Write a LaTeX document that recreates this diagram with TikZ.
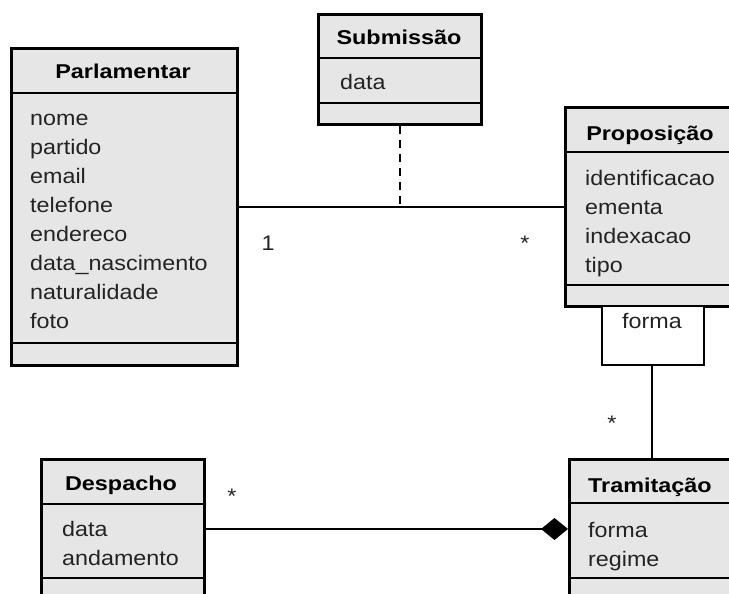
\documentclass[tikz,border=0pt]{standalone}
\usepackage{fontspec}
\setmainfont{Liberation Sans}[FakeStretch=1.17]
\newfontfamily\attrfont{Liberation Sans}[FakeStretch=1.11]
\usetikzlibrary{arrows.meta}
\definecolor{boxfill}{RGB}{230,230,230}
\definecolor{txt}{RGB}{35,35,35}
\tikzset{
  classbox/.style={draw=black, fill=boxfill, line width=3pt, rectangle, anchor=north west, inner sep=0pt},
  sepline/.style={draw=black, line width=1.5pt},
  conn/.style={draw=black, line width=1.5pt},
  qualbox/.style={draw=black, fill=white, line width=1.5pt, rectangle, anchor=north west, inner sep=0pt},
  title/.style={font=\fontsize{20}{24}\selectfont\bfseries, text=black, anchor=base, inner sep=0pt},
  attr/.style={font=\attrfont\fontsize{21}{24}\selectfont, text=txt, anchor=base west, inner sep=0pt},
  mult/.style={font=\attrfont\fontsize{21}{24}\selectfont, text=txt, inner sep=0pt}
}
\begin{document}
\begin{tikzpicture}[x=1pt,y=-1pt]
\useasboundingbox (0,0) rectangle (729,594);
\clip (0,0) rectangle (729,594);
% Parlamentar
\node[classbox, minimum width=226pt, minimum height=317pt] (parl) at (10,47) {};
\draw[sepline] (parl.west |- 0,93) -- (parl.east |- 0,93);
\draw[sepline] (parl.west |- 0,343) -- (parl.east |- 0,343);
\node[title] (parlt) at (123,79) {Parlamentar};
\node[attr] (p1) at (30,125) {nome};
\node[attr] (p2) at (30,154) {partido};
\node[attr] (p3) at (30,183) {email};
\node[attr] (p4) at (30,212) {telefone};
\node[attr] (p5) at (30,241) {endereco};
\node[attr] (p6) at (30,270) {data\_nascimento};
\node[attr] (p7) at (30,299) {naturalidade};
\node[attr] (p8) at (30,328) {foto};
% Submissao
\node[classbox, minimum width=163pt, minimum height=110pt] (sub) at (317,13) {};
\draw[sepline] (sub.west |- 0,58) -- (sub.east |- 0,58);
\draw[sepline] (sub.west |- 0,103) -- (sub.east |- 0,103);
\node[title] (subt) at (399,45) {Submissão};
\node[attr] (s1) at (340,90) {data};
% Proposicao
\node[classbox, minimum width=172pt, minimum height=199pt] (prop) at (564,106) {};
\draw[sepline] (prop.west |- 0,152) -- (prop.east |- 0,152);
\draw[sepline] (prop.west |- 0,285) -- (prop.east |- 0,285);
\node[title] (propt) at (650,140) {Proposição};
\node[attr] (r1) at (585,185) {identificacao};
\node[attr] (r2) at (585,214) {ementa};
\node[attr] (r3) at (585,243) {indexacao};
\node[attr] (r4) at (585,272) {tipo};
% qualifier
\node[qualbox, minimum width=102pt, minimum height=59pt] (qual) at (601,305) {};
\node[attr, anchor=base] (qualt) at (652,328) {forma};
% Tramitacao
\node[classbox, minimum width=167pt, minimum height=170pt] (tram) at (568,458) {};
\draw[sepline] (tram.west |- 0,503) -- (tram.east |- 0,503);
\draw[sepline] (tram.west |- 0,578) -- (tram.east |- 0,578);
\node[title] (tramt) at (650,492) {Tramitação};
\node[attr] (t1) at (588,537) {forma};
\node[attr] (t2) at (588,566) {regime};
% Despacho
\node[classbox, minimum width=163pt, minimum height=170pt] (desp) at (40,458) {};
\draw[sepline] (desp.west |- 0,504) -- (desp.east |- 0,504);
\draw[sepline] (desp.west |- 0,578) -- (desp.east |- 0,578);
\node[title] (despt) at (121,490) {Despacho};
\node[attr] (d1) at (62,536) {data};
\node[attr] (d2) at (62,565) {andamento};
% connectors
\coordinate (assoc) at (400,207);
\coordinate (comp) at (0,529);
\draw[conn] (parl.east |- assoc) -- (prop.west |- assoc);
\draw[conn, dash pattern=on 8pt off 6pt] (sub.south) -- (assoc);
\draw[conn] (qual.south -| 652,0) -- (tram.north -| 652,0);
\draw[conn, -{Diamond[length=27pt,width=22pt,fill=black]}] (desp.east |- comp) -- (tram.west |- comp);
% multiplicities
\node[mult] (m1) at (268,243) {1};
\node[mult] (m2) at (525,243) {*};
\node[mult] (m3) at (612,423) {*};
\node[mult] (m4) at (232,496) {*};
\end{tikzpicture}
\end{document}
